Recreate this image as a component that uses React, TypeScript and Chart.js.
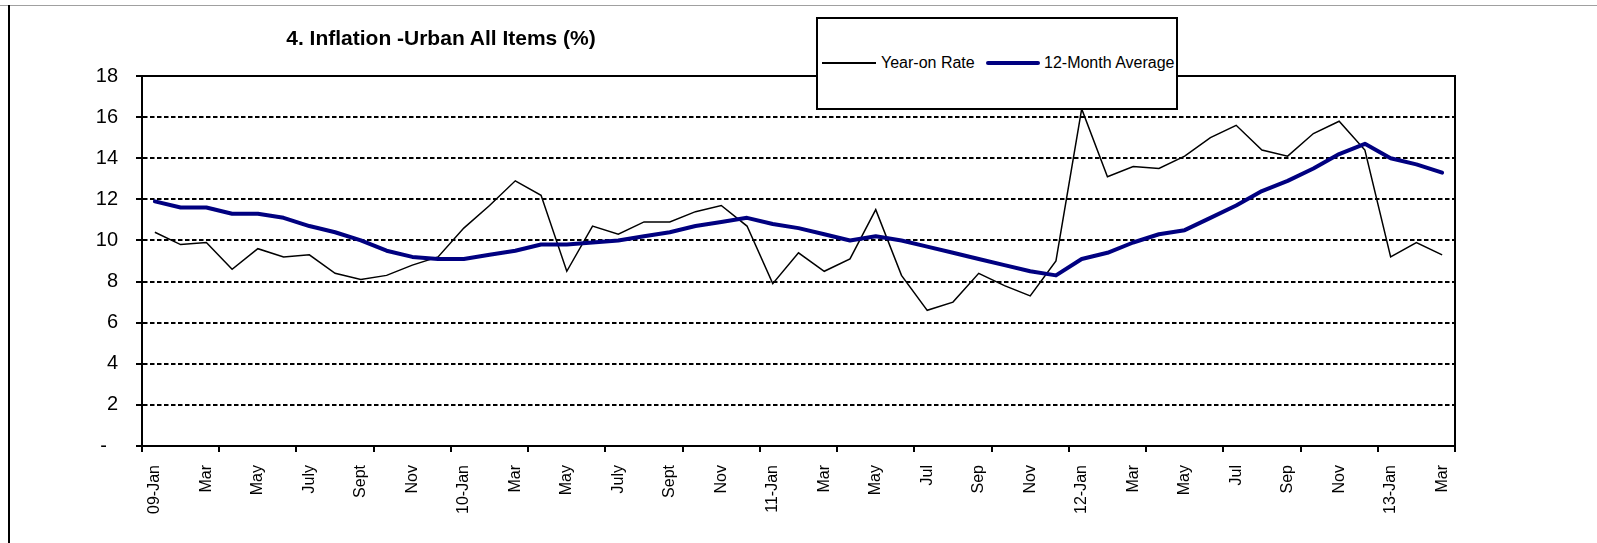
import React, { useEffect, useRef } from "react";
import { Chart, registerables } from "chart.js";

Chart.register(...registerables);

const months: string[] = [
  "09-Jan", "Feb", "Mar", "Apr", "May", "Jun", "July", "Aug", "Sept", "Oct", "Nov", "Dec",
  "10-Jan", "Feb", "Mar", "Apr", "May", "Jun", "July", "Aug", "Sept", "Oct", "Nov", "Dec",
  "11-Jan", "Feb", "Mar", "Apr", "May", "Jun", "Jul", "Aug", "Sep", "Oct", "Nov", "Dec",
  "12-Jan", "Feb", "Mar", "Apr", "May", "Jun", "Jul", "Aug", "Sep", "Oct", "Nov", "Dec",
  "13-Jan", "Feb", "Mar",
];

const yearOnRate: number[] = [
  10.4, 9.8, 9.9, 8.6, 9.6, 9.2, 9.3, 8.4, 8.1, 8.3, 8.8, 9.2,
  10.6, 11.7, 12.9, 12.2, 8.5, 10.7, 10.3, 10.9, 10.9, 11.4, 11.7, 10.7,
  7.9, 9.4, 8.5, 9.1, 11.5, 8.3, 6.6, 7.0, 8.4, 7.8, 7.3, 9.0,
  16.4, 13.1, 13.6, 13.5, 14.1, 15.0, 15.6, 14.4, 14.1, 15.2, 15.8, 14.4,
  9.2, 9.9, 9.3,
];

const twelveMonthAverage: number[] = [
  11.9, 11.6, 11.6, 11.3, 11.3, 11.1, 10.7, 10.4, 10.0, 9.5, 9.2, 9.1,
  9.1, 9.3, 9.5, 9.8, 9.8, 9.9, 10.0, 10.2, 10.4, 10.7, 10.9, 11.1,
  10.8, 10.6, 10.3, 10.0, 10.2, 10.0, 9.7, 9.4, 9.1, 8.8, 8.5, 8.3,
  9.1, 9.4, 9.9, 10.3, 10.5, 11.1, 11.7, 12.4, 12.9, 13.5, 14.2, 14.7,
  14.0, 13.7, 13.3,
];

const seriesNames: string[] = ["Year-on Rate", "12-Month Average"];
const seriesColors: string[] = ["#000000", "#000080"];
const seriesWidths: number[] = [1.5, 4];

const yTickValues: number[] = [0, 2, 4, 6, 8, 10, 12, 14, 16, 18];

const TITLE = "4. Inflation -Urban All Items (%)";
const FONT = "'Liberation Sans', Arial, sans-serif";

const plotFrame = {
  id: "plotFrame",
  afterDraw(chart: any) {
    const { ctx, chartArea } = chart;
    ctx.save();
    ctx.strokeStyle = "#000";
    ctx.lineWidth = 2;
    ctx.beginPath();
    ctx.moveTo(chartArea.left, chartArea.top);
    ctx.lineTo(chartArea.right, chartArea.top);
    ctx.lineTo(chartArea.right, chartArea.bottom);
    ctx.stroke();
    ctx.restore();
  },
};

export default function App() {
  const canvasRef = useRef<HTMLCanvasElement | null>(null);

  useEffect(() => {
    const canvas = canvasRef.current;
    if (!canvas) return;
    const chart = new Chart(canvas, {
      type: "line",
      data: {
        labels: months,
        datasets: [
          {
            label: seriesNames[0],
            data: yearOnRate,
            borderColor: seriesColors[0],
            borderWidth: seriesWidths[0],
            pointRadius: 0,
            tension: 0,
            fill: false,
            order: 2,
          },
          {
            label: seriesNames[1],
            data: twelveMonthAverage,
            borderColor: seriesColors[1],
            borderWidth: seriesWidths[1],
            borderJoinStyle: "round",
            borderCapStyle: "round",
            pointRadius: 0,
            tension: 0,
            fill: false,
            order: 1,
          },
        ],
      },
      options: {
        animation: false,
        responsive: false,
        maintainAspectRatio: false,
        layout: { padding: { top: 76, right: 142, bottom: 0, left: 0 } },
        plugins: {
          legend: { display: false },
          title: { display: false },
          tooltip: { enabled: false },
        },
        scales: {
          x: {
            type: "category",
            offset: true,
            afterFit(scale: any) {
              scale.height = 97;
            },
            grid: {
              offset: true,
              drawOnChartArea: false,
              drawTicks: true,
              tickLength: 6,
              lineWidth: 2,
              color: (c: any) =>
                c.type !== "tick" || c.index % 3 === 0 ? "#000" : "rgba(0,0,0,0)",
            },
            border: { display: true, color: "#000", width: 2 },
            ticks: {
              autoSkip: false,
              maxRotation: 90,
              minRotation: 90,
              padding: 13,
              color: "#000",
              font: { family: FONT, size: 16 },
              callback: (_v: any, i: number) => (i % 2 === 0 ? months[i] : ""),
            },
          },
          y: {
            min: 0,
            max: 18,
            afterFit(scale: any) {
              scale.width = 142;
            },
            afterBuildTicks(scale: any) {
              scale.ticks = yTickValues.map((v) => ({ value: v }));
            },
            grid: {
              drawOnChartArea: true,
              drawTicks: true,
              tickLength: 6,
              lineWidth: 2,
              tickWidth: 2,
              tickColor: "#000",
              tickBorderDash: [],
              color: (c: any) =>
                c.tick && (c.tick.value === 0 || c.tick.value === 18)
                  ? "rgba(0,0,0,0)"
                  : "#000",
            },
            border: { display: true, color: "#000", width: 2, dash: [4.5, 2.5] },
            ticks: {
              padding: 18,
              color: "#000",
              font: { family: FONT, size: 20 },
              callback: (v: any) => (v === 0 ? "-\u00a0\u00a0" : String(v)),
            },
          },
        },
      },
      plugins: [plotFrame],
    });
    return () => chart.destroy();
  }, []);

  return (
    <div
      style={{
        position: "fixed",
        left: 0,
        top: 0,
        width: 1597,
        height: 543,
        background: "#fff",
        overflow: "hidden",
        fontFamily: FONT,
      }}
    >
      <div style={{ position: "absolute", left: 0, top: 5, width: 1597, height: 1, background: "#a0a0a0" }} />
      <div style={{ position: "absolute", left: 8, top: 5, width: 2, height: 538, background: "#000" }} />
      <canvas
        ref={canvasRef}
        width={1597}
        height={543}
        style={{ position: "absolute", left: 0, top: 0, width: 1597, height: 543 }}
      />
      <div
        style={{
          position: "absolute",
          left: 230,
          top: 26,
          width: 422,
          textAlign: "center",
          fontWeight: "bold",
          fontSize: 21,
          lineHeight: "24px",
          color: "#000",
          whiteSpace: "nowrap",
        }}
      >
        {TITLE}
      </div>
      <div
        style={{
          position: "absolute",
          left: 816,
          top: 17,
          width: 362,
          height: 93,
          boxSizing: "border-box",
          border: "2px solid #000",
          background: "#fff",
          overflow: "hidden",
        }}
      >
        {seriesNames.map((name, i) => {
          const sampleLeft = i === 0 ? 4 : 168;
          const textLeft = i === 0 ? 63 : 226;
          return (
            <React.Fragment key={name}>
              <div
                style={{
                  position: "absolute",
                  left: sampleLeft,
                  top: 44 - seriesWidths[i] / 2,
                  width: 54,
                  height: seriesWidths[i],
                  background: seriesColors[i],
                  borderRadius: i === 1 ? 2 : 0,
                }}
              />
              <div
                style={{
                  position: "absolute",
                  left: textLeft,
                  top: 34,
                  fontSize: 16,
                  lineHeight: "20px",
                  color: "#000",
                  whiteSpace: "nowrap",
                }}
              >
                {name}
              </div>
            </React.Fragment>
          );
        })}
      </div>
    </div>
  );
}
